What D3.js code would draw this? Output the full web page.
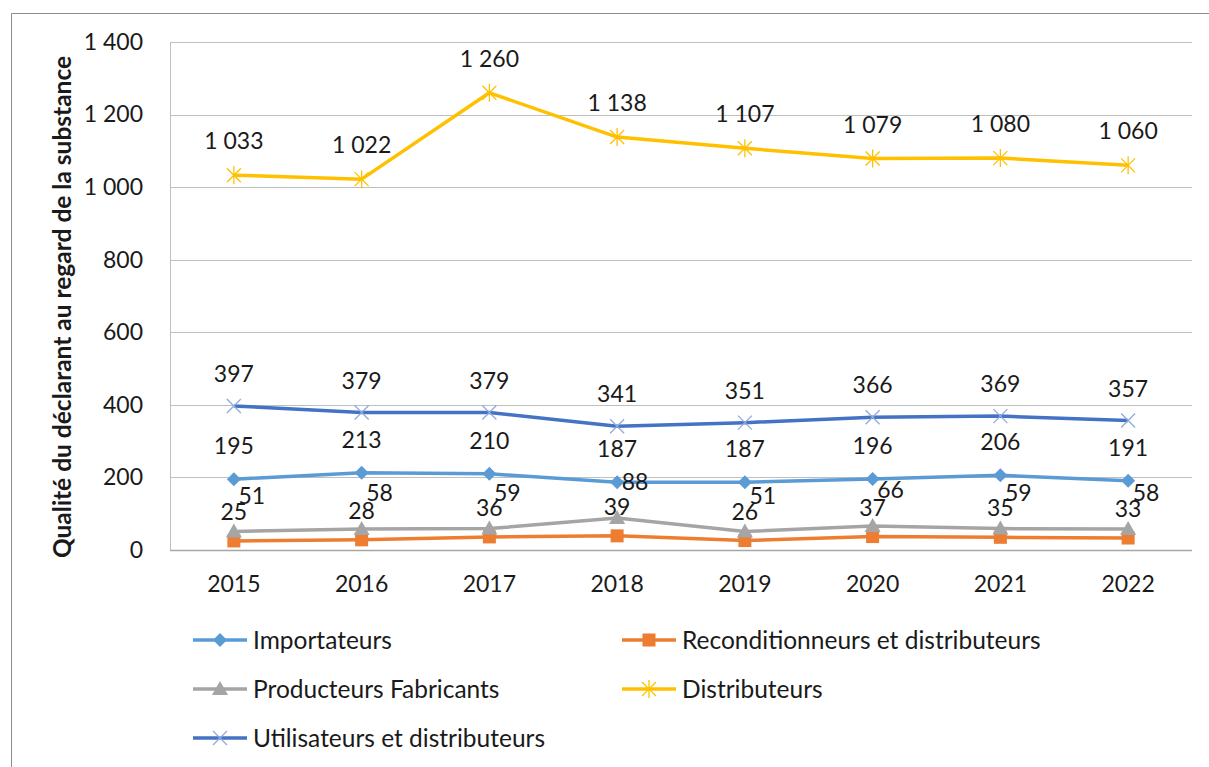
<!DOCTYPE html>
<html>
<head>
<meta charset="utf-8">
<script src="https://cdn.jsdelivr.net/npm/d3@7"></script>
<style>
  body { margin: 0; background: #fff; }
  text { font-family: Lato, "Open Sans", sans-serif; fill: #1a1a1a; }
</style>
</head>
<body>
<svg id="chart" width="1209" height="767" viewBox="0 0 1209 767"></svg>
<script>
const years = ["2015", "2016", "2017", "2018", "2019", "2020", "2021", "2022"];
const importateurs = [195, 213, 210, 187, 187, 196, 206, 191];
const reconditionneurs = [25, 28, 36, 39, 26, 37, 35, 33];
const producteurs = [51, 58, 59, 88, 51, 66, 59, 58];
const distributeurs = [1033, 1022, 1260, 1138, 1107, 1079, 1080, 1060];
const utilisateurs = [397, 379, 379, 341, 351, 366, 369, 357];
const yTicks = [0, 200, 400, 600, 800, 1000, 1200, 1400];

const series = [
  { name: "Importateurs", values: importateurs, color: "#5B9BD5", marker: "diamond", dx: 0, dy: -33 },
  { name: "Reconditionneurs et distributeurs", values: reconditionneurs, color: "#ED7D31", marker: "square", dx: 0, dy: -29 },
  { name: "Producteurs Fabricants", values: producteurs, color: "#A5A5A5", marker: "triangle", dx: 18, dy: -36 },
  { name: "Distributeurs", values: distributeurs, color: "#FFC000", marker: "star", dx: 0, dy: -34 },
  { name: "Utilisateurs et distributeurs", values: utilisateurs, color: "#4472C4", marker: "cross", dx: 0, dy: -32 }
];

const fr = d3.formatLocale({ decimal: ",", thousands: "\u00a0", grouping: [3], currency: ["", " €"] });
const fmt = fr.format(",d");

const svg = d3.select("#chart");
const width = 1209, height = 767;
const margin = { top: 42, right: 17, bottom: 217, left: 170 };

// outer frame (only top and left edges visible in the crop)
svg.append("path")
  .attr("d", `M11.5,${height} V13.5 H${width}`)
  .attr("fill", "none")
  .attr("stroke", "#8c8c8c")
  .attr("stroke-width", 1);

const x = d3.scaleBand()
  .domain(years)
  .range([margin.left, width - margin.right]);

const y = d3.scaleLinear()
  .domain([0, 1400])
  .range([height - margin.bottom, margin.top]);

// gridlines
svg.append("g")
  .selectAll("line")
  .data(yTicks)
  .join("line")
  .attr("x1", margin.left)
  .attr("x2", width - margin.right)
  .attr("y1", d => Math.round(y(d)) + 0.5)
  .attr("y2", d => Math.round(y(d)) + 0.5)
  .attr("stroke", d => d === 0 ? "#a6a6a6" : "#bfbfbf")
  .attr("stroke-width", d => d === 0 ? 1.5 : 1);

svg.append("line")
  .attr("x1", margin.left + 0.5)
  .attr("x2", margin.left + 0.5)
  .attr("y1", y(1400))
  .attr("y2", y(0))
  .attr("stroke", "#bfbfbf");

// y axis
svg.append("g")
  .attr("transform", `translate(${margin.left}, 0)`)
  .call(d3.axisLeft(y).tickValues(yTicks).tickFormat(fmt).tickSize(0).tickPadding(27))
  .call(g => g.select(".domain").remove())
  .call(g => g.selectAll("text").attr("font-size", 23).attr("font-family", "Lato"));

// x axis
svg.append("g")
  .attr("transform", `translate(0, ${y(0)})`)
  .call(d3.axisBottom(x).tickSize(0).tickPadding(26))
  .call(g => g.select(".domain").remove())
  .call(g => g.selectAll("text").attr("font-size", 23).attr("font-family", "Lato"));

svg.append("text")
  .attr("transform", `translate(71, 307) rotate(-90)`)
  .attr("text-anchor", "middle")
  .attr("font-size", 24.5)
  .attr("font-weight", "bold")
  .text("Qualité du déclarant au regard de la substance");

function marker(g, type, color) {
  if (type === "diamond") {
    g.append("path").attr("d", "M0,-7 L7,0 L0,7 L-7,0 Z").attr("fill", color);
  } else if (type === "square") {
    g.append("rect").attr("x", -6.5).attr("y", -6.5).attr("width", 13).attr("height", 13).attr("fill", color);
  } else if (type === "triangle") {
    g.append("path").attr("d", "M0,-8 L8,6 L-8,6 Z").attr("fill", color);
  } else if (type === "star") {
    g.append("path")
      .attr("d", "M-7,-7 L7,7 M-7,7 L7,-7 M0,-9 L0,9")
      .attr("stroke", color).attr("stroke-width", 1.3).attr("fill", "none");
  } else if (type === "cross") {
    g.append("path")
      .attr("d", "M-7,-7 L7,7 M-7,7 L7,-7")
      .attr("stroke", "#8faadc").attr("stroke-width", 1.3).attr("fill", "none");
  }
}

const cx = d => x(d) + x.bandwidth() / 2;

const line = d3.line()
  .x((d, i) => cx(years[i]))
  .y(d => y(d));

const plot = svg.append("g");

series.forEach(s => {
  const g = plot.append("g");
  g.append("path")
    .datum(s.values)
    .attr("d", line)
    .attr("fill", "none")
    .attr("stroke", s.color)
    .attr("stroke-width", 3.5)
    .attr("stroke-linejoin", "round");

  g.selectAll(".pt")
    .data(s.values)
    .join("g")
    .attr("class", "pt")
    .attr("transform", (d, i) => `translate(${cx(years[i])}, ${y(d)})`)
    .each(function () { marker(d3.select(this), s.marker, s.color); });
});

series.forEach(s => {
  plot.append("g")
    .selectAll("text")
    .data(s.values)
    .join("text")
    .attr("x", (d, i) => cx(years[i]) + s.dx)
    .attr("y", d => y(d) + s.dy)
    .attr("dy", "0.35em")
    .attr("text-anchor", "middle")
    .attr("font-size", 23)
    .text(d => fmt(d));
});

// legend
const legendItems = [
  { s: series[0], x: 193, y: 640 },
  { s: series[1], x: 622, y: 640 },
  { s: series[2], x: 193, y: 689 },
  { s: series[3], x: 622, y: 689 },
  { s: series[4], x: 193, y: 738 }
];

const legend = svg.append("g")
  .selectAll("g")
  .data(legendItems)
  .join("g")
  .attr("transform", d => `translate(${d.x}, ${d.y})`);

legend.append("line")
  .attr("x1", 0)
  .attr("x2", 54)
  .attr("stroke", d => d.s.color)
  .attr("stroke-width", 3.5);

legend.append("g")
  .attr("transform", "translate(27, 0)")
  .each(function (d) { marker(d3.select(this), d.s.marker, d.s.color); });

legend.append("text")
  .attr("x", 60)
  .attr("dy", "0.35em")
  .attr("font-size", 24.5)
  .text(d => d.s.name);
</script>
</body>
</html>
